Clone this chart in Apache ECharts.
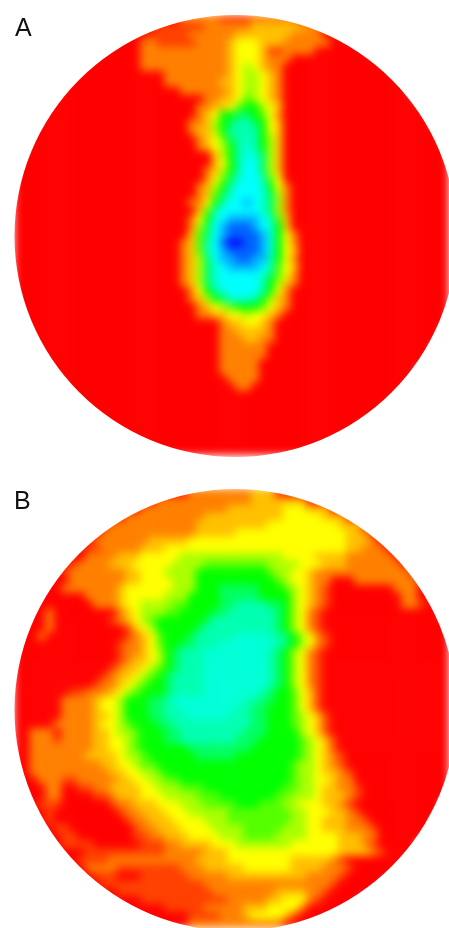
<!DOCTYPE html>
<html><head><meta charset="utf-8">
<style>
html,body{margin:0;padding:0;background:#fff;width:449px;height:928px;overflow:hidden}
#heat,#top{position:absolute;left:0;top:0;width:449px;height:928px}
#heat{filter:blur(4px)}
</style>
<script src="https://cdn.jsdelivr.net/npm/echarts@6/dist/echarts.min.js"></script>
</head><body>
<div id="heat"></div><div id="top"></div>
<script>
// Levels, row by row (8 px cells). Row = "startColumn|cells"; x*n = n cells of level x.
const panelLabels = ['A', 'B'];
const levelColors = ['#ff0000','#ff4000','#ff8000','#ffc000','#ffff00','#aaff00','#55ff00','#00ff00','#00ff60','#00ffb0','#00ffd8','#00ffff','#00b0ff','#0060ff','#0000ff'];
const discA = [
"21|22222 1111 222222",
"18|111111 222222 3333333 22",
"17|11111 222222 3333333 2222",
"16|22 11111 2222 3 444 333 222222",
"16|22222222222 3 444 3 11 2222",
"16|22222222222 3 444 3 222",
"16|22222222222 3 4 5 4 3 2 2",
"19|22222222 3 4 5 5 4 3 2",
"19|2222222 3 3 4 5 5 4 3 2",
"21|222222 3 4 5 5 4 3 2",
"24|2 2 3 3 4 6 5 4 3 2",
"23|2 2 3 3 4 6 7 7 5 4 3",
"23|2 3 4 7 7 8 8 7 6 4 2",
"22|2 2 3 5 7 8 9 9 8 7 4 3",
"22|2 3 3 5 7 9 9 9 9 7 4 3",
"23|2 3 4 6 8 9 9 9 7 5 3",
"23|2 3 4 5 7 9 a 9 7 5 3",
"25|3 5 7 9 a a 8 5 3",
"25|3 4 7 9 b b 8 5 3",
"24|2 3 5 7 9 b b 8 5 3",
"24|2 4 6 8 a b b 9 6 4",
"23|2 3 5 7 9 b b b a 7 4 2",
"23|2 3 6 8 a b b b a 8 5 2",
"22|2 2 4 7 9 b b c b a 8 5 2",
"23|3 6 9 b b b b b a 8 5 2",
"22|2 4 7 a b c c c c b 9 6 3",
"22|2 5 8 b c d d d c b a 7 3",
"22|3 6 8 b c d d d d c a 7 4 2",
"21|2 3 6 9 b d e e d d c a 7 4 2",
"21|2 3 6 9 b c d d d d c a 7 4 3",
"21|2 3 5 8 b c c d d c c 9 7 4 2",
"21|2 3 5 8 a b c c c c b 9 6 4 3",
"21|2 3 5 8 a b b b b b a 8 6 4 2",
"21|2 3 5 8 a b b b b b 9 7 5 3 2",
"22|2 4 7 9 a b b b b 9 7 4 2",
"22|2 3 5 7 8 a a a 9 7 5 3 2",
"23|2 3 4 5 6 7 7 7 6 4 3 2",
"23|2 2 3 3 4 4 5 4 4 3 2",
"26|2 3 3 4 4 3 2",
"26|2 2 3 3 3 3 2",
"26|2 2 2 3 3 2 2",
"26|222222",
"26|222222",
"26|22222",
"26|22222",
"27|2222",
"28|22"
];
const discB = [
"22|2*8 3*3",
"18|2*12 3*7",
"16|2*11 3*7 4*3 3*3",
"14|2*10 3*10 4*5 3*3",
"12|2*11 3*9 4*9 3*3",
"11|2*12 3*5 4*14 3*2 2",
"10|2*7 3*5 4*20 3*3 2",
"9|1*2 2*5 3*3 4*23 3*2 2*3",
"8|0 2*4 3*3 4*5 5*13 4*4 3*4 2*6",
"7|1 2*4 3*3 4*5 5*4 6*8 5*4 4*3 3*3 2*7",
"6|1 2*7 3*2 4*3 5*4 7*9 6 5*2 4*2 3 2*12",
"5|0*2 2*7 3*2 4*4 5*3 7*10 6 5 4*2 3 2*2 0*3 2*8",
"5|0 2*7 3 4*6 5*3 7*3 8*5 7*3 6 5 4 3 2 1 0*8 2*3",
"4|0*5 2*4 3 4*5 5*3 7*4 8*5 7*4 5 4 3 2 1 0*9 2*2",
"3|0*7 2*3 3 4*2 5*4 6*2 7*4 8*2 9*4 8*2 7 5 4 3 2 1 0*9 2*2 1",
"3|0 2 0*8 2 3 4 5*3 6*2 7*4 8*2 9*6 8 7 5 4 2 1",
"2|0*2 2 0*7 1 2 3 4 5 6 7*6 8 9*8 8 7 5 4 2 1",
"2|0*2 2 0*9 1 3 4 5 7*5 8 9*9 8 7 5 4 2 1",
"1|0*2 2 0*10 1 2 3 4 6 7*3 8 9*5 a*4 9*2 8 7 5 4 2 1",
"1|0*12 1 2 2 3 4 6 7*2 8*2 9*3 a*7 9 8 7 5 4 2 1",
"1|0*12 1 2 2 3 4 5 7 8 9*3 a*8 9 8 7 5 4 2 1",
"1|0*12 1 2 3 3 4 5 7 8 9*3 a*8 9 8 7 5 4 2 1",
"1|0*11 1 2 3 3 4 5 6 7 8 9*3 a*8 9 8 7 5 4 2 1",
"1|0*10 1 2 3 3 4 5 6 7 8 9*4 a*8 9 8 7 5 4 2 1",
"1|0*9 1 2 2 3 4 5 6 7 7 8 9*4 a*8 9 8 7 5 4 2 1",
"1|0*6 1*2 2*3 3 4 5 6 7*3 8 9*4 a*7 9 8 7*2 6 4 3 1",
"1|0*5 2*4 3 4*2 5 7*3 8*2 9 a*9 9*2 8*2 7*2 6 4 3 1",
"0|0*6 2*4 3 4*2 5 7*3 8*2 9*2 a*7 9*2 8*2 7*3 6 4 3 1",
"1|0*5 2*4 3*2 4 5 7*3 8*2 9*3 a*5 9*3 8*2 7*3 6 5 4 3 1",
"1|0*4 2*5 3 4*2 5 6 7*3 8*2 9*10 8*2 7*3 6 5 4 3 1",
"0|0*2 2*3 0 2*4 3*2 4 5*2 6 7*3 8*2 9*8 8*3 7*4 5 4 3 1",
"0|0*2 2*3 1 2*4 3*2 4*2 5 6 7*3 8*2 9*7 8*3 7*5 6 5 4 3 1",
"0|0*2 2*8 3*2 4*2 5 6 7*6 8*8 7*6 6 5 4 3 1",
"0|0*2 2*7 3*4 4 5*2 6 7*6 8*5 7*8 6 5 4 3 2 1",
"0|0*2 2*9 3*2 4*2 5 6*2 7*17 6 5*2 4 3 2 1",
"1|0 2*10 3*2 4*2 5*2 6 7*16 6 5*2 4 3*2 2 1",
"1|0*2 2*3 1*2 2*5 3*2 4*2 5*2 6*2 7*14 6 5*2 4*2 3 2*2",
"2|0*2 2*2 0*2 1*2 2*2 3*4 4*2 5*3 6*3 7*10 6*2 5*2 4 3*2 2*2 1",
"3|0 2*2 0*4 1*2 2 3*3 4*3 5*4 6*3 7*7 6*2 5*3 4 3*3 2 1",
"3|1*3 0*6 1 2*2 3*3 4*3 5*3 6*4 7*3 6*3 5*2 4*3 3*2 2 1",
"4|1 0*8 1 2*2 3*3 4*3 5*5 6*8 5*2 4*3 3*2 2 1",
"4|1 0*9 1 2*2 3*3 4*4 5*3 6*8 5*2 4*2 3*3 2*2 1",
"5|1*2 0*8 1 2*2 3*3 4*4 5*4 6*5 5*3 4*2 3*3 2*3 1",
"5|0 1*2 0*7 1*2 2*2 3*3 4*4 5*3 6*4 5*4 4*4 3*3 2*2",
"6|1*4 0*6 1*3 2*2 3*4 4*3 5*7 4*6 3*3 2 1",
"7|0*2 1*10 2*5 3*3 4*14 3*4 2 1",
"8|1*4 2*11 3*4 4*8 3*5 2 1",
"9|2*4 1*8 2*3 3*5 4*6 3*4 2*3 1",
"10|1*3 0*3 1*6 2*5 3*10 2*4 1",
"11|1*13 2*16 1",
"13|1*12 2*8 3*4 2*2 1",
"16|1*11 2*5 3*2 4*3 2 1",
"19|1*5 2*5 3*3 4*4 2",
"22|1*4 2*3 3 4*4 3 1",
"22|2*12"
];
const gridSize = 55, cellPx = 8;
const discCentres = [[235.5,236],[235.5,710]];
const discRadius = 221;
const gridTops = [15, 489];

function expand(row){
  const parts = row.split('|'); let col = +parts[0]; const out = [];
  parts[1].split(' ').forEach(t=>{
    if(!t) return;
    if(t.includes('*')){const [c,n]=t.split('*'); for(let i=0;i<+n;i++) out.push([col++,parseInt(c,16)]);}
    else for(const c of t) out.push([col++,parseInt(c,16)]);
  });
  return out;
}
function cells(rows, panel){
  const m = [];
  for(let j=0;j<gridSize;j++){ m[j]=new Array(gridSize).fill(0); }
  rows.forEach((r,j)=>expand(r).forEach(([c,v])=>{ if(c<gridSize) m[j][c]=v; }));
  const [cx,cy]=discCentres[panel], out=[];
  for(let j=0;j<gridSize;j++) for(let i=0;i<gridSize;i++){
    const x=14+cellPx*i+4, y=gridTops[panel]+cellPx*j+4;
    if(Math.hypot(x-cx,y-cy)<discRadius+12) out.push([i,j,m[j][i]]);
  }
  return out;
}
const idx = Array.from({length:gridSize},(_,i)=>i);
const heat = echarts.init(document.getElementById('heat'),null,{renderer:'canvas'});
heat.setOption({
  animation:false,
  grid: gridTops.map(t=>({left:14,top:t,width:gridSize*cellPx,height:gridSize*cellPx})),
  xAxis:[0,1].map(g=>({type:'category',gridIndex:g,data:idx,show:false})),
  yAxis:[0,1].map(g=>({type:'category',gridIndex:g,data:idx,inverse:true,show:false})),
  visualMap:{show:false,type:'continuous',min:0,max:14,dimension:2,seriesIndex:[0,1],inRange:{color:levelColors}},
  series:[discA,discB].map((rows,p)=>({type:'heatmap',xAxisIndex:p,yAxisIndex:p,data:cells(rows,p),silent:true,progressive:0,clip:false,itemStyle:{borderWidth:0}}))
});
const top2 = echarts.init(document.getElementById('top'),null,{renderer:'canvas'});
top2.setOption({
  animation:false,
  title:[
    {text:panelLabels[0],left:10,top:12,textStyle:{fontFamily:'Liberation Sans',fontSize:25,fontWeight:'normal',color:'#111'}},
    {text:panelLabels[1],left:9,top:485,textStyle:{fontFamily:'Liberation Sans',fontSize:25,fontWeight:'normal',color:'#111'}}
  ],
  graphic:discCentres.map(([cx,cy])=>({type:'ring',silent:true,shape:{cx,cy,r:discRadius+31,r0:discRadius},style:{fill:'#fff'},z:1}))
});
</script>
</body></html>
